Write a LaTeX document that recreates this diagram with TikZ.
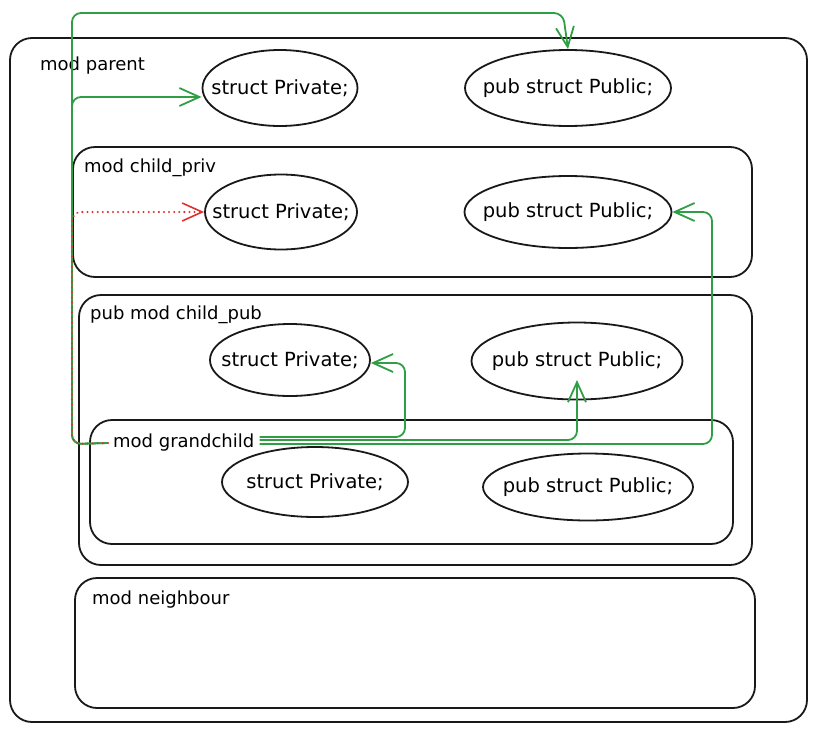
\documentclass[tikz,border=0pt]{standalone}
\usepackage{fontspec}
\setmainfont{DejaVu Sans}
\usetikzlibrary{shapes.geometric,arrows.meta}
\definecolor{exgreen}{HTML}{2F9E44}
\definecolor{exred}{HTML}{E03131}
\newcommand{\ctext}[1]{\makebox[0pt][c]{#1}}
\begin{document}
\begin{tikzpicture}[x=1pt,y=-1pt,
  modbox/.style={draw=black!90,line width=1.8pt,rounded corners=22pt},
  modlabel/.style={anchor=west,inner sep=0pt,font=\fontsize{18}{20}\selectfont},
  item/.style={draw=black!90,line width=1.8pt,ellipse,inner sep=0pt,font=\fontsize{19.5}{22}\selectfont},
  garrow/.style={draw=exgreen,line width=1.8pt,rounded corners=9pt,-{Straight Barb[length=20pt,width=18pt,line width=1.8pt]}},
  rarrow/.style={draw=exred,line width=2.2pt,line cap=round,dash pattern=on 0.1pt off 5pt,rounded corners=9pt,-{Straight Barb[length=20pt,width=18pt,line width=1.6pt]}}
]
\useasboundingbox (0,0) rectangle (817,734);
% module boxes
\draw[modbox] (10,38) rectangle (807,722);
\draw[modbox] (73,147) rectangle (752,277);
\draw[modbox] (79,295) rectangle (752,565);
\draw[modbox] (90,420) rectangle (733,544);
\draw[modbox] (75,578) rectangle (755,708);
% module labels
\node[modlabel] (lparent) at (40,66) {mod parent};
\node[modlabel] (lpriv) at (84,168) {mod child\_priv};
\node[modlabel] (lpub) at (90,315) {pub mod child\_pub};
\node[modlabel] (gc) at (113,443) {mod grandchild};
\node[modlabel] (lneigh) at (92,600) {mod neighbour};
% structs
\node[item,minimum width=155pt,minimum height=76pt] (pp) at (280,88) {\ctext{struct Private;}};
\node[item,minimum width=206pt,minimum height=76pt] (ppub) at (568,88) {\ctext{pub struct Public;}};
\node[item,minimum width=152pt,minimum height=75pt] (cp) at (281,212) {\ctext{struct Private;}};
\node[item,minimum width=207pt,minimum height=72pt] (cpub) at (568,212) {\ctext{pub struct Public;}};
\node[item,minimum width=160pt,minimum height=72pt] (bp) at (290,360) {\ctext{struct Private;}};
\node[item,minimum width=211pt,minimum height=77pt] (bpub) at (577,361) {\ctext{pub struct Public;}};
\node[item,minimum width=186pt,minimum height=70pt] (gp) at (315,482) {\ctext{struct Private;}};
\node[item,minimum width=210pt,minimum height=67pt] (gpub) at (588,487) {\ctext{pub struct Public;}};
% connectors
\coordinate (gcw) at ([xshift=-5pt]gc.west);
\coordinate (gce) at ([xshift=5pt]gc.east);
\draw[garrow] (gcw) -- (72,444) -- (72,13) -- (563,13) -- (ppub.north);
\draw[garrow] (gcw) -- (72,444) -- (72,97) -- (pp.west |- 0,97);
\draw[rarrow] (gcw) -- (72,444) -- (72,212) -- (cp.west);
\draw[garrow] (gce |- 0,437) -- (405,437) -- (405,363) -- (bp.east |- 0,363);
\draw[garrow] (gce |- 0,440) -- (577,440) -- (577,380);
\draw[garrow] (gce |- 0,444) -- (712,444) -- (712,212) -- (cpub.east);
\end{tikzpicture}
\end{document}
